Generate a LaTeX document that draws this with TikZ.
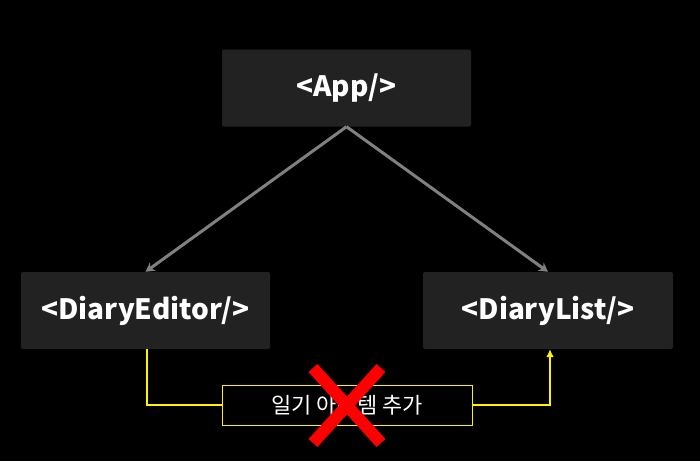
\documentclass[tikz,border=0pt]{standalone}
\usepackage{fontspec}
\setmainfont{Noto Sans CJK KR}
\usetikzlibrary{arrows.meta}
\tikzset{
  comp/.style={fill=boxgray, rounded corners=2pt, minimum width=249pt, minimum height=77pt, inner sep=0pt, text=white, font=\bfseries\fontsize{28}{30}\selectfont},
  tree/.style={draw=arrowgray, line width=3pt, -{Stealth[length=9pt,width=10pt]}},
  flow/.style={draw=yellow, line width=2.2pt},
  labelbox/.style={draw=yellow, line width=0.8pt, fill=black, minimum width=250pt, minimum height=40pt, inner sep=0pt, text=white, font=\fontsize{22}{24}\selectfont},
  cross/.style={draw=red, line width=12pt}
}
\definecolor{boxgray}{HTML}{222222}
\definecolor{arrowgray}{HTML}{808080}
\begin{document}
\begin{tikzpicture}[x=1pt,y=-1pt]
\fill[black] (0,0) rectangle (700,461);
\useasboundingbox (0,0) rectangle (700,461);
\node[comp] (app) at (346.5,88) {<App/>};
\node[comp] (editor) at (145.5,310.5) {<DiaryEditor/>};
\node[comp, minimum width=250pt] (list) at (548,310.5) {<DiaryList/>};
\draw[tree] (app.south) -- (editor.north);
\draw[tree] (app.south) -- (list.north);
\node[labelbox] (lbl) at (347,405) {일기 아이템 추가};
\coordinate (c1) at (147,405);
\coordinate (c2) at (550,405);
\draw[flow] ([xshift=1.5pt]editor.south) -- (c1) -- (lbl.west);
\draw[flow, -{Latex[length=8pt,width=8pt]}] (lbl.east) -- (c2) -- ([xshift=2pt]list.south);
\coordinate (x1) at (313,368);
\coordinate (x2) at (381,443);
\coordinate (x3) at (381,368);
\coordinate (x4) at (313,443);
\draw[cross] (x1) -- (x2);
\draw[cross] (x3) -- (x4);
\end{tikzpicture}
\end{document}
